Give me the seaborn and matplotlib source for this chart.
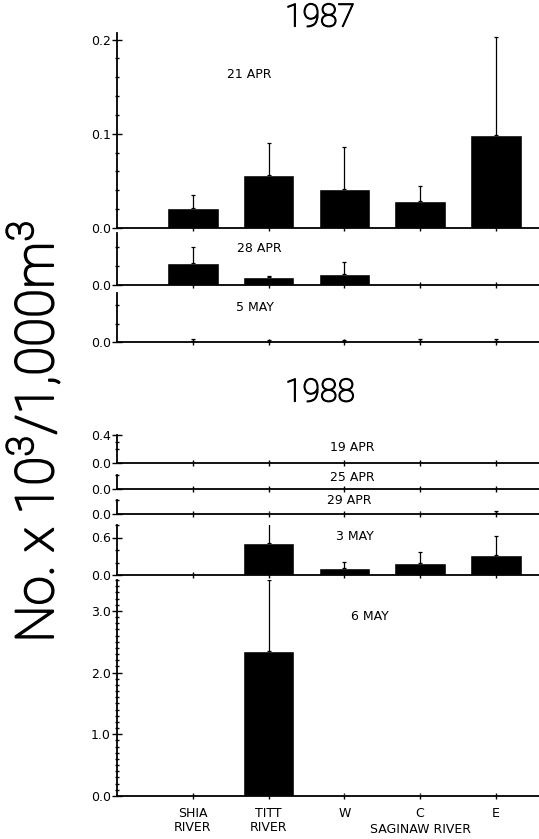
'''
    Larval density by site, 1987 and 1988
    bar panels with upper error bars, one panel per sampling date
'''

import matplotlib
matplotlib.use("Agg")
import matplotlib.pyplot as plt
import matplotlib.patheffects as pe
from matplotlib.ticker import FixedLocator
import seaborn as sns

SITES = ["SHIA\nRIVER", "TITT\nRIVER", "W", "C", "E"]

# 1987
APR21_87 = [0.021, 0.056, 0.041, 0.029, 0.099]
APR21_87_ERR = [0.014, 0.034, 0.045, 0.016, 0.104]
APR28_87 = [0.023, 0.0085, 0.012, 0.0, 0.0]
APR28_87_ERR = [0.017, 0.001, 0.012, 0.0, 0.0]
MAY5_87 = [0.0015, 0.0, 0.0, 0.001, 0.001]
MAY5_87_ERR = [0.002, 0.002, 0.002, 0.002, 0.002]

# 1988
APR19_88 = [0.0, 0.0, 0.0, 0.003, 0.003]
APR19_88_ERR = [0.0, 0.0, 0.0, 0.0, 0.0]
APR25_88 = [0.0, 0.0, 0.0, 0.0, 0.0]
APR25_88_ERR = [0.0, 0.0, 0.0, 0.0, 0.0]
APR29_88 = [0.0, 0.02, 0.0, 0.015, 0.02]
APR29_88_ERR = [0.0, 0.0, 0.0, 0.0, 0.02]
MAY3_88 = [0.0, 0.52, 0.11, 0.19, 0.32]
MAY3_88_ERR = [0.0, 0.31, 0.10, 0.18, 0.30]
MAY6_88 = [0.0, 2.35, 0.01, 0.01, 0.0]
MAY6_88_ERR = [0.0, 1.15, 0.0, 0.0, 0.0]

W, H = 539, 839
LEFT = 117


def add_panel(fig, top, bottom, vals, errs, ymax, major, minor, label, lx, ly):
    ''' add one bar panel whose pixel top/bottom are given '''
    ax = fig.add_axes([LEFT / W, 1 - bottom / H, (W - LEFT) / W, (bottom - top) / H])
    sns.barplot(x=list(range(len(vals))), y=vals, color="black", width=0.68,
                saturation=1, ax=ax, errorbar=None)
    for i in range(len(vals)):
        if errs[i] > 0:
            ax.errorbar(i, vals[i], yerr=[[0], [errs[i]]], fmt="none",
                        ecolor="black", elinewidth=0.9, capsize=1.5, capthick=0.9)
    ax.set_xlim(-1.0, 4.57)
    ax.set_ylim(0, ymax)
    ax.yaxis.set_major_locator(FixedLocator(major))
    ax.yaxis.set_minor_locator(FixedLocator(minor))
    ax.yaxis.set_major_formatter(plt.FuncFormatter(lambda v, p: f"{v:.1f}"))
    for side in ["top", "right"]:
        ax.spines[side].set_visible(False)
    ax.spines["left"].set_linewidth(1.3)
    ax.spines["bottom"].set_linewidth(1.3)
    ax.spines["left"].set_color("black")
    ax.spines["bottom"].set_color("black")
    ax.tick_params(axis="y", which="major", left=True, direction="inout",
                   length=7, width=1.0, labelsize=9, pad=1,
                   color="black", labelcolor="black")
    ax.tick_params(axis="y", which="minor", left=True, direction="inout",
                   length=3, width=1.0, color="black")
    ax.tick_params(axis="x", bottom=True, direction="inout", length=4,
                   width=1.0, labelbottom=False, color="black", labelcolor="black")
    ax.set_xlabel("")
    ax.set_ylabel("")
    ax.text(lx, ly, label, transform=ax.get_xaxis_transform(),
            ha="center", va="center", fontsize=9, color="black")
    ax.patch.set_alpha(0)
    return ax


def main():
    sns.set_style("white")
    plt.rcParams["font.family"] = ["DejaVu Sans"]
    plt.rcParams["mathtext.fontset"] = "custom"
    plt.rcParams["mathtext.rm"] = "Roboto:light"
    fig = plt.figure(figsize=(W / 100, H / 100), dpi=100)

    add_panel(fig, 33, 228, APR21_87, APR21_87_ERR, 0.207,
              [0.0, 0.1, 0.2], [0.02, 0.04, 0.06, 0.08, 0.12, 0.14, 0.16, 0.18],
              "21 APR", 0.75, 0.785)
    add_panel(fig, 233, 285, APR28_87, APR28_87_ERR, 0.055,
              [0.0], [0.02, 0.04], "28 APR", 0.88, 0.71)
    add_panel(fig, 293, 342, MAY5_87, MAY5_87_ERR, 0.053,
              [0.0], [0.02, 0.04], "5 MAY", 0.82, 0.71)

    add_panel(fig, 435, 463, APR19_88, APR19_88_ERR, 0.4,
              [0.0, 0.4], [0.2, 0.3], "19 APR", 2.1, 0.54)
    add_panel(fig, 475, 489, APR25_88, APR25_88_ERR, 0.2,
              [0.0], [0.2], "25 APR", 2.1, 0.79)
    add_panel(fig, 500, 514, APR29_88, APR29_88_ERR, 0.2,
              [0.0], [0.2], "29 APR", 2.07, 1.0)
    add_panel(fig, 525, 575, MAY3_88, MAY3_88_ERR, 0.8,
              [0.0, 0.6], [0.2, 0.4, 0.8], "3 MAY", 2.14, 0.76)
    ax = add_panel(fig, 580, 796, MAY6_88, MAY6_88_ERR, 3.5,
                   [0.0, 1.0, 2.0, 3.0],
                   [i / 10 for i in range(1, 36) if i % 10 != 0],
                   "6 MAY", 2.34, 0.83)
    ax.set_xticks(range(len(SITES)))
    ax.set_xticklabels(SITES, fontsize=9, linespacing=1.1)
    ax.tick_params(axis="x", labelbottom=True, pad=6)
    ax.text(3, -0.157, "SAGINAW RIVER", transform=ax.get_xaxis_transform(),
            ha="center", va="center", fontsize=9, color="black")

    thin = dict(family=["Roboto", "DejaVu Sans"], fontweight="light", color="black")
    stroke = [pe.withStroke(linewidth=0.9, foreground="black")]
    fig.text(320 / W, 1 - 18 / H, "1987", ha="center", va="center",
             fontsize=23, path_effects=stroke, **thin)
    fig.text(320 / W, 1 - 393 / H, "1988", ha="center", va="center",
             fontsize=23, path_effects=stroke, **thin)
    fig.text(35 / W, 1 - 432 / H, "No. x 10$^3$/1,000m$^3$", rotation=90,
             ha="center", va="center", fontsize=38,
             path_effects=[pe.withStroke(linewidth=1.4, foreground="black")], **thin)

    fig.savefig("out.png", dpi=100)


if __name__ == "__main__":
    main()
